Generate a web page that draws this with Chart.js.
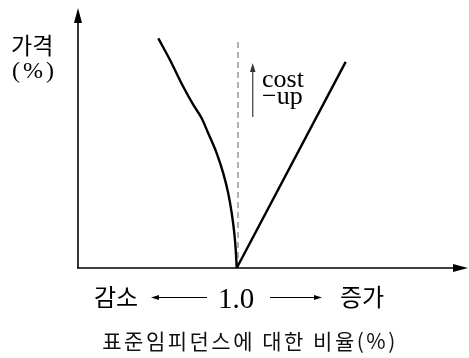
<!DOCTYPE html>
<html><head><meta charset="utf-8">
<script src="https://cdn.jsdelivr.net/npm/chart.js@4"></script>
<style>html,body{margin:0;padding:0;background:#fff}#wrap{width:469px;height:358px}</style>
</head><body><div id="wrap"><canvas id="c" width="469" height="358"></canvas></div>
<script>
// data (x = impedance ratio, 1.0 at centre; y = price %)
const leftX  = [0.502, 0.575, 0.658, 0.721, 0.773, 0.814, 0.867, 0.908, 0.939, 0.961, 0.977, 0.986, 0.992];
const leftY  = [88.3, 80.0, 69.7, 62.7, 57.6, 51.8, 44.1, 36.4, 28.7, 21.0, 13.3, 6.9, 0];
const rightX = [0.992, 1.673];
const rightY = [0, 79.3];
const refX   = [1.0, 1.0];
const refY   = [0, 88.3];
const costX  = [1.092, 1.092];
const costY  = [58.1, 76.5];
const yLabel = ['가격', '(%)'];
const xTicks = ['감소', '1.0', '증가'];
const xTitle = '표준임피던스에 대한 비율(%)';
const costLabel = ['cost', '−up'];

const pts = (xs, ys) => xs.map((x, i) => ({x, y: ys[i]}));
const KR = '"Noto Sans CJK KR", sans-serif';
const SERIF = '"Liberation Serif", "DejaVu Serif", serif';

function arrowHead(ctx, x, y, dir, len, half) {
  ctx.beginPath();
  if (dir === 'up') { ctx.moveTo(x, y); ctx.lineTo(x - half, y + len); ctx.lineTo(x + half, y + len); }
  else if (dir === 'right') { ctx.moveTo(x, y); ctx.lineTo(x - len, y - half); ctx.lineTo(x - len, y + half); }
  else if (dir === 'left') { ctx.moveTo(x, y); ctx.lineTo(x + len, y - half); ctx.lineTo(x + len, y + half); }
  ctx.closePath(); ctx.fill();
}

const deco = {
  id: 'deco',
  afterDatasetsDraw(chart) {
    const {ctx, chartArea: a, scales: {x, y}} = chart;
    ctx.save();
    ctx.strokeStyle = '#000'; ctx.fillStyle = '#000'; ctx.lineWidth = 1.6;
    const x0 = x.getPixelForValue(0), y0 = y.getPixelForValue(0);
    // axes
    ctx.beginPath(); ctx.moveTo(x0, y0); ctx.lineTo(x0, a.top + 8); ctx.stroke();
    arrowHead(ctx, x0, a.top, 'up', 15, 4);
    ctx.beginPath(); ctx.moveTo(x0 - 1, y0); ctx.lineTo(a.right - 8, y0); ctx.stroke();
    arrowHead(ctx, a.right, y0, 'right', 15, 4);
    // cost-up arrowhead
    ctx.fillStyle = '#333';
    const cx = x.getPixelForValue(costX[1]);
    arrowHead(ctx, cx, y.getPixelForValue(78.8), 'up', 9, 2.8);
    // labels
    ctx.fillStyle = '#000';
    ctx.textBaseline = 'middle'; ctx.textAlign = 'left';
    ctx.font = '23px ' + KR; ctx.fillText(yLabel[0], 11, 45);
    ctx.font = '24px ' + SERIF; ctx.letterSpacing = '3px'; ctx.fillText(yLabel[1], 12, 72);
    ctx.letterSpacing = '0px';
    ctx.textBaseline = 'alphabetic';
    ctx.font = '26px ' + SERIF;
    ctx.fillText(costLabel[0], 262, 87);
    ctx.fillText(costLabel[1], 262, 104);
    // x tick labels
    const cxm = x.getPixelForValue(1.0);
    ctx.textAlign = 'center';
    ctx.font = '29px ' + SERIF;
    ctx.fillText(xTicks[1], cxm - 2, 308);
    ctx.textBaseline = 'middle';
    ctx.font = '24px ' + KR;
    ctx.fillText(xTicks[0], 116, 297);
    ctx.fillText(xTicks[2], 362, 297);
    // arrows between
    ctx.lineWidth = 1.2;
    const ay = 297.5;
    ctx.beginPath(); ctx.moveTo(156, ay); ctx.lineTo(207, ay); ctx.stroke();
    arrowHead(ctx, 151, ay, 'left', 8, 2.5);
    ctx.beginPath(); ctx.moveTo(270, ay); ctx.lineTo(316, ay); ctx.stroke();
    arrowHead(ctx, 322, ay, 'right', 8, 2.5);
    // x title
    ctx.font = '21px ' + KR;
    ctx.letterSpacing = '2.5px';
    ctx.fillStyle = '#111';
    ctx.fillText(xTitle, 250, 341);
    ctx.restore();
  }
};

new Chart(document.getElementById('c'), {
  type: 'scatter',
  data: {
    datasets: [
      {data: pts(leftX, leftY), showLine: true, borderColor: '#000', borderWidth: 2.4, pointRadius: 0, cubicInterpolationMode: 'monotone', fill: false},
      {data: pts(rightX, rightY), showLine: true, borderColor: '#000', borderWidth: 2.4, pointRadius: 0, fill: false},
      {data: pts(refX, refY), showLine: true, borderColor: '#666', borderWidth: 1, borderDash: [6, 4], pointRadius: 0, fill: false},
      {data: pts(costX, costY), showLine: true, borderColor: '#555', borderWidth: 1.4, pointRadius: 0, fill: false}
    ]
  },
  options: {
    responsive: false, animation: false, devicePixelRatio: 1,
    layout: {padding: {left: 78, right: 1, top: 8, bottom: 90}},
    plugins: {legend: {display: false}, tooltip: {enabled: false}},
    scales: {
      x: {type: 'linear', display: false, min: 0, max: 2.4375},
      y: {type: 'linear', display: false, min: 0, max: 100}
    }
  },
  plugins: [deco]
});
</script></body></html>
